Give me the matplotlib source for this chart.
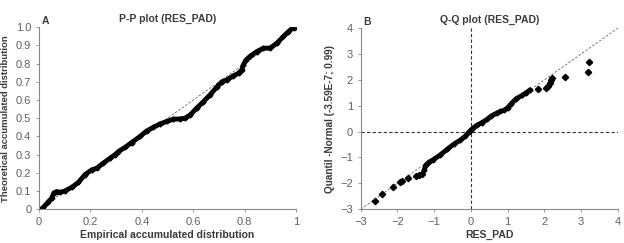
import matplotlib.pyplot as plt
import matplotlib.font_manager as fm

# P-P plot points (empirical, theoretical)
pp_x = [0.0, 0.017, 0.036, 0.049, 0.058, 0.069, 0.082, 0.10, 0.127, 0.153, 0.179, 0.205,
        0.224, 0.25, 0.276, 0.296, 0.309, 0.335, 0.36, 0.393, 0.419, 0.445, 0.471, 0.497,
        0.523, 0.549, 0.568, 0.588, 0.613, 0.639, 0.665, 0.691, 0.711, 0.73, 0.756, 0.776,
        0.789, 0.795, 0.805, 0.821, 0.847, 0.873, 0.899, 0.925, 0.951, 0.97, 0.99, 1.0]
pp_y = [-0.01, 0.01, 0.04, 0.06, 0.09, 0.097, 0.092, 0.10, 0.12, 0.147, 0.19, 0.216,
        0.225, 0.253, 0.28, 0.30, 0.317, 0.34, 0.366, 0.40, 0.43, 0.45, 0.469, 0.482,
        0.495, 0.496, 0.50, 0.518, 0.555, 0.59, 0.628, 0.67, 0.70, 0.71, 0.733, 0.747,
        0.766, 0.793, 0.82, 0.84, 0.866, 0.885, 0.885, 0.912, 0.949, 0.976, 0.998, 1.0]

# Q-Q plot: dense middle part
qq_x = [-1.27, -1.23, -1.15, -1.02, -0.84, -0.65, -0.47, -0.29, -0.15, -0.06, 0.0, 0.07,
        0.16, 0.30, 0.44, 0.55, 0.71, 0.80, 0.90, 1.00, 1.10, 1.24, 1.40, 1.50, 1.60]
qq_y = [-1.49, -1.30, -1.19, -1.08, -0.91, -0.69, -0.49, -0.33, -0.18, -0.03, 0.06, 0.15,
        0.24, 0.35, 0.47, 0.60, 0.72, 0.78, 0.82, 0.92, 1.08, 1.28, 1.40, 1.50, 1.60]
# Q-Q plot: sparse tail points
tail_x = [-2.61, -2.43, -2.11, -1.93, -1.88, -1.72, -1.49, -1.40, -1.34,
          1.84, 2.05, 2.10, 2.15, 2.19, 2.22, 2.56, 3.19, 3.22]
tail_y = [-2.70, -2.40, -2.13, -1.96, -1.90, -1.81, -1.71, -1.66, -1.64,
          1.65, 1.68, 1.76, 1.88, 2.00, 2.06, 2.13, 2.30, 2.68]

names = [f.name for f in fm.fontManager.ttflist]
if 'Liberation Sans Narrow' in names:
    plt.rcParams['font.family'] = 'Liberation Sans Narrow'
else:
    plt.rcParams['font.family'] = 'Liberation Sans'

tick_col = '#606060'
lab_col = '#3a3a3a'

fig = plt.figure(figsize=(6.24, 2.43), dpi=100)
ax1 = fig.add_axes([0.0625, 0.139, 0.412, 0.749])
ax2 = fig.add_axes([0.578, 0.139, 0.412, 0.745])

for ax in (ax1, ax2):
    for s in ('top', 'right'):
        ax.spines[s].set_visible(False)
    for s in ('left', 'bottom'):
        ax.spines[s].set_color('#888888')
        ax.spines[s].set_linewidth(0.8)
    ax.tick_params(colors='#888888', labelcolor=tick_col, labelsize=8, length=2, width=0.6)

# left panel
ax1.plot([0, 1], [0, 1], ls='--', color='#666666', lw=0.6, dashes=(3, 2))
ax1.plot(pp_x, pp_y, color='black', lw=3.5, marker='D', ms=2.5)
ax1.set_xlim(0, 1)
ax1.set_ylim(0, 1.0)
ax1.set_xticks([0, 0.2, 0.4, 0.6, 0.8, 1])
ax1.set_xticklabels(['0', '0.2', '0.4', '0.6', '0.8', '1'])
ax1.set_yticks([i / 10 for i in range(11)])
ax1.set_yticklabels(['0'] + [f'{i / 10:.1f}' for i in range(1, 11)])
ax1.set_xlabel('Empirical accumulated distribution', fontsize=7.5, fontweight='bold', color=lab_col, labelpad=2)
ax1.set_ylabel('Theoretical accumulated distribution', fontsize=6.8, fontweight='bold', color=lab_col, labelpad=4)
ax1.set_title('P-P plot (RES_PAD)', fontsize=7.5, fontweight='bold', color=lab_col, pad=4)
ax1.text(0.01, 1.02, 'A', transform=ax1.transAxes, fontsize=7.5, fontweight='bold', color=lab_col)

# right panel
ax2.plot([-3, 4], [-3, 4], ls='--', color='#666666', lw=0.6, dashes=(3, 2))
ax2.axhline(0, color='#333333', ls='--', lw=0.8, dashes=(3, 2))
ax2.axvline(0, color='#333333', ls='--', lw=0.8, dashes=(3, 2))
ax2.plot(qq_x, qq_y, color='black', lw=3.5, marker='D', ms=2.5)
ax2.plot(tail_x, tail_y, ls='none', color='black', marker='D', ms=3.2)
ax2.set_xlim(-3, 4)
ax2.set_ylim(-3, 4)
ax2.set_xticks(range(-3, 5))
ax2.set_yticks(range(-3, 5))
ax2.set_xlabel('RES_PAD', fontsize=7.5, fontweight='bold', color=lab_col, labelpad=2)
ax2.set_ylabel('Quantil -Normal (-3.59E-7; 0.99)', fontsize=7.2, fontweight='bold', color=lab_col, labelpad=4)
ax2.set_title('Q-Q plot (RES_PAD)', fontsize=7.5, fontweight='bold', color=lab_col, pad=4)
ax2.text(0.01, 1.02, 'B', transform=ax2.transAxes, fontsize=7.5, fontweight='bold', color=lab_col)

fig.savefig('out.png', dpi=100)
